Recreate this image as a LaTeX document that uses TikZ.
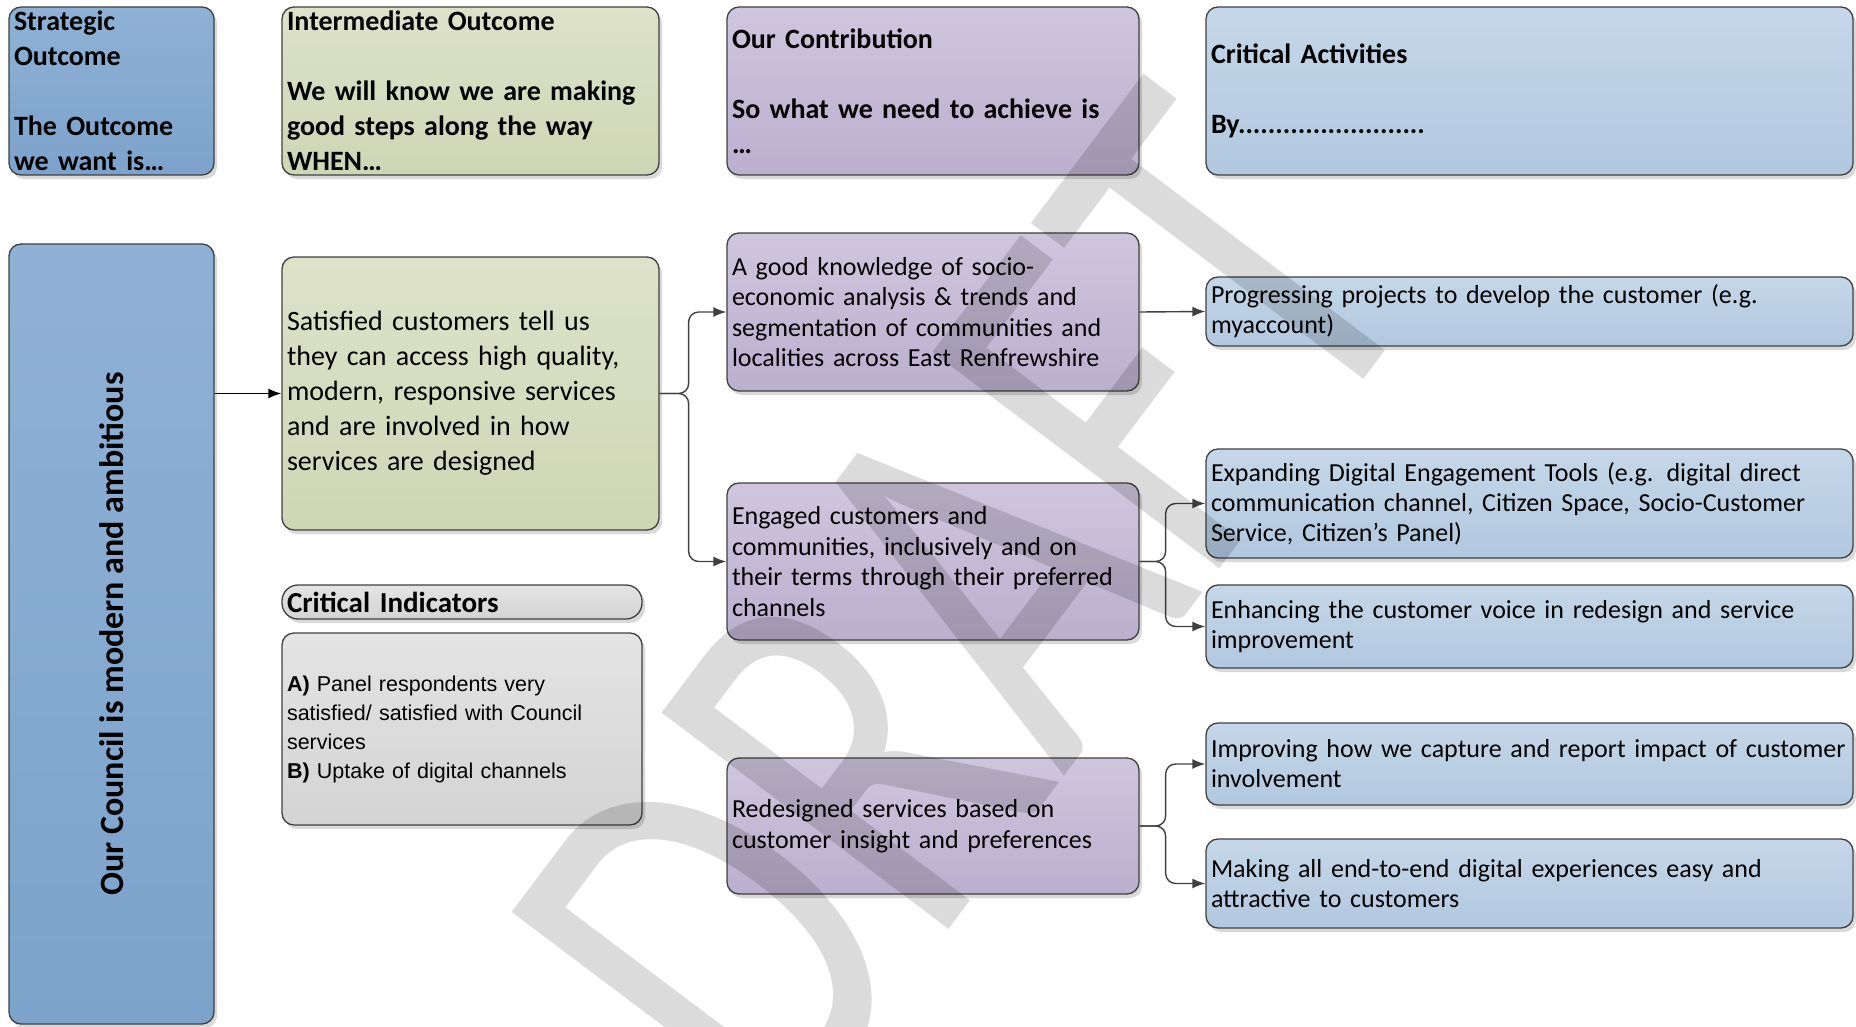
\documentclass[tikz,border=0pt]{standalone}
\usepackage{fontspec}
\setmainfont{Carlito}
\newfontfamily\arialfont{Liberation Sans}
\usetikzlibrary{arrows.meta}
\usetikzlibrary{shadows}
\usepackage{xcolor}
\definecolor{myborder}{RGB}{64,64,64}
\definecolor{mystrattop}{RGB}{143,177,213}
\definecolor{mystratbot}{RGB}{124,163,204}
\definecolor{mygreentop}{RGB}{221,226,201}
\definecolor{mygreenbot}{RGB}{207,214,180}
\definecolor{mypurpletop}{RGB}{207,198,222}
\definecolor{mypurplebot}{RGB}{187,175,206}
\definecolor{mybluetop}{RGB}{197,215,232}
\definecolor{mybluebot}{RGB}{177,200,224}
\definecolor{mygreytop}{RGB}{228,228,228}
\definecolor{mygreybot}{RGB}{212,212,212}
\colorlet{mylink}{black!75}
\tikzset{
  >=latex,
  box/.style={draw=myborder,line width=1.3pt,rounded corners=12pt,align=left,inner xsep=5pt,inner ysep=0pt,
    drop shadow={shadow xshift=3pt,shadow yshift=-4pt,opacity=0.15,fill=black}},
  box head/.style={box,font=\fontsize{28}{35}\selectfont\bfseries},
  box strat/.style={top color=mystrattop,bottom color=mystratbot},
  box green/.style={top color=mygreentop,bottom color=mygreenbot},
  box purple/.style={top color=mypurpletop,bottom color=mypurplebot},
  box blue/.style={top color=mybluetop,bottom color=mybluebot},
  box grey/.style={top color=mygreytop,bottom color=mygreybot},
  node purple/.style={box,box purple,text width=402pt,font=\fontsize{26}{30.5}\selectfont},
  node blue/.style={box,box blue,text width=637pt,font=\fontsize{26}{30}\selectfont},
  connect/.style={line width=1.4pt,mylink,rounded corners=10pt},
  connect arrow/.style={connect,-{Latex[length=13pt,width=10pt]}},
  watermark/.style={text=black,text opacity=0.14,rotate=53,font=\fontsize{560}{560}\selectfont}
}
\begin{document}
\begin{tikzpicture}[x=1pt,y=-1pt]
  \clip (0,0) rectangle (1856,1027);
  % header row
  \node[box head,box strat,text width=195pt,minimum height=168pt] (head so) at (111.5,91) {Strategic\\Outcome\\~\\The Outcome\\we want is…};
  \node[box head,box green,text width=367pt,minimum height=168pt] (head io) at (470.5,91) {Intermediate Outcome\\~\\We will know we are making\\good steps along the way\\WHEN…};
  \node[box head,box purple,text width=402pt,minimum height=168pt] (head oc) at (933,91) {Our Contribution\\~\\So what we need to achieve is\\…};
  \node[box head,box blue,text width=637pt,minimum height=168pt] (head ca) at (1529.5,91) {Critical Activities\\~\\By.........................};

  \node[box,box strat,minimum width=205pt,minimum height=780pt,font=\fontsize{34}{40}\selectfont\bfseries] (council) at (111.5,634) {\rotatebox{90}{Our Council is modern and ambitious}};

  \node[box,box green,text width=367pt,minimum height=273pt,font=\fontsize{28}{35}\selectfont] (satisfied) at (470.5,393.5) {Satisfied customers tell us\\they can access high quality,\\modern, responsive services\\and are involved in how\\services are designed};
  \node[box,box grey,text width=350pt,minimum height=34pt,rounded corners=16pt,font=\fontsize{29}{30}\selectfont\bfseries] (indicators) at (462,602) {Critical Indicators};
  \node[box,box grey,text width=350pt,minimum height=192pt,font=\arialfont\fontsize{21.5}{29}\selectfont] (indicator list) at (462,729) {\textbf{A)} Panel respondents very\\satisfied/ satisfied with Council\\services\\\textbf{B)} Uptake of digital channels};

  % contributions
  \node[node purple,minimum height=158pt] (knowledge) at (933,312) {A good knowledge of socio-\\economic analysis \& trends and\\segmentation of communities and\\localities across East Renfrewshire};
  \node[node purple,minimum height=157pt] (engaged) at (933,561.5) {Engaged customers and\\communities, inclusively and on\\their terms through their preferred\\channels};
  \node[node purple,minimum height=136pt] (redesigned) at (933,826) {Redesigned services based on\\customer insight and preferences};

  % activities
  \node[node blue,minimum height=69pt] (progressing) at (1529.5,311.5) {Progressing projects to develop the customer (e.g.\\myaccount)};
  \node[node blue,minimum height=109pt] (expanding) at (1529.5,503.5) {Expanding Digital Engagement Tools (e.g. digital direct\\communication channel, Citizen Space, Socio-Customer\\Service, Citizen’s Panel)};
  \node[node blue,minimum height=83pt] (enhancing) at (1529.5,626.5) {Enhancing the customer voice in redesign and service\\improvement};
  \node[node blue,minimum height=82pt] (improving) at (1529.5,764) {Improving how we capture and report impact of customer\\involvement};
  \node[node blue,minimum height=89pt] (making) at (1529.5,883.5) {Making all end-to-end digital experiences easy and\\attractive to customers};

  \draw[connect arrow,black] (council.east |- satisfied.west) -- (satisfied.west);
  \draw[connect arrow] (satisfied.east) -- ++(29,0) |- (knowledge.west);
  \draw[connect arrow] (satisfied.east) -- ++(29,0) |- (engaged.west);
  \draw[connect arrow] (knowledge.east) -- (progressing.west);
  \draw[connect arrow] (engaged.east) -- ++(26,0) |- (expanding.west);
  \draw[connect arrow] (engaged.east) -- ++(26,0) |- (enhancing.west);
  \draw[connect arrow] (redesigned.east) -- ++(26,0) |- (improving.west);
  \draw[connect arrow] (redesigned.east) -- ++(26,0) |- (making.west);

  \node[watermark,anchor=base west] (draft) at (780,1153) {\scalebox{0.72}[1]{DRAFT}};
\end{tikzpicture}
\end{document}
